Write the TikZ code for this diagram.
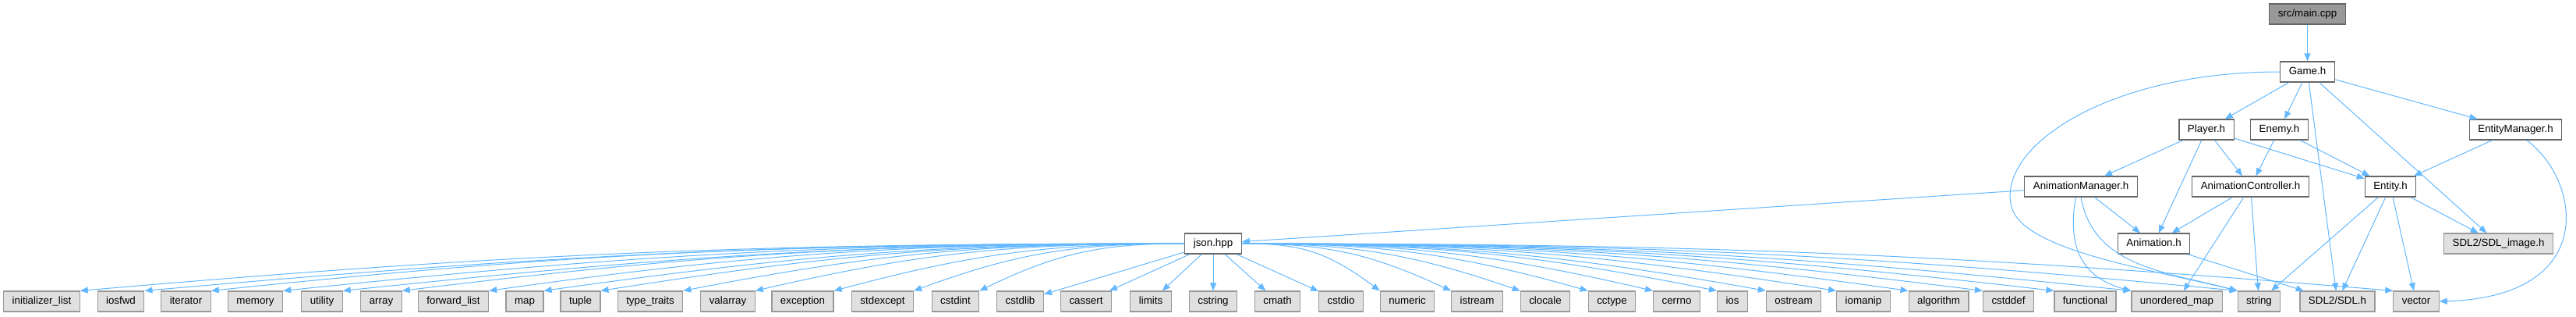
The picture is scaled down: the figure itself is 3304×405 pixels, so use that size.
\documentclass[tikz,border=0pt]{standalone}
\usepackage{fontspec}
\setmainfont{Liberation Sans}
\usepackage{tikz}
\usetikzlibrary{arrows.meta,positioning}
\definecolor{dxblue}{HTML}{63B8FF}
\definecolor{dxgray}{HTML}{999999}
\definecolor{dxdark}{HTML}{666666}
\definecolor{dxlight}{HTML}{E0E0E0}

\begin{document}
\begin{tikzpicture}[x=0.75pt, y=-0.75pt, font=\normalsize,
    box/.style={rectangle, line width=0.9pt, minimum height=19.5pt, inner xsep=8.25pt, text height=7.2pt, text depth=2pt},
    srcfile/.style={box, draw=dxdark, fill=dxgray},
    hfile/.style={box, draw=dxdark, fill=white},
    sysfile/.style={box, draw=dxgray, fill=dxlight},
    dep/.style={draw=dxblue, line width=0.75pt, -{Triangle[length=7.5pt,width=6pt]}}]
  \useasboundingbox (0,0) rectangle (3304,405);

  \node[srcfile] (main) at (2959.5,18) {src/main.cpp};
  \node[hfile] (game) at (2959.5,92) {Game.h};
  \node[hfile] (player) at (2830,166) {Player.h};
  \node[hfile] (enemy) at (2923.5,166) {Enemy.h};
  \node[hfile] (entmgr) at (3226.5,166) {EntityManager.h};
  \node[hfile] (animmgr) at (2669,239) {AnimationManager.h};
  \node[hfile] (animctrl) at (2886.5,239) {AnimationController.h};
  \node[hfile] (entity) at (3066,239) {Entity.h};
  \node[hfile] (json) at (1556,312) {json.hpp};
  \node[hfile] (anim) at (2762.5,312) {Animation.h};
  \node[sysfile] (sdlimg) at (3204.5,312) {SDL2/SDL\_image.h};

  \node[sysfile] (initlist) at (53.5,386) {initializer\_list};
  \node[sysfile] (iosfwd) at (155,386) {iosfwd};
  \node[sysfile] (iterator) at (238.5,386) {iterator};
  \node[sysfile] (memory) at (327.5,386) {memory};
  \node[sysfile] (utility) at (413,386) {utility};
  \node[sysfile] (array) at (489,386) {array};
  \node[sysfile] (fwdlist) at (581.5,386) {forward\_list};
  \node[sysfile] (map) at (673,386) {map};
  \node[sysfile] (tuple) at (744.5,386) {tuple};
  \node[sysfile] (typetraits) at (834,386) {type\_traits};
  \node[sysfile] (valarray) at (933.5,386) {valarray};
  \node[sysfile] (exception) at (1029.5,386) {exception};
  \node[sysfile] (stdexcept) at (1132,386) {stdexcept};
  \node[sysfile] (cstdint) at (1225.5,386) {cstdint};
  \node[sysfile] (cstdlib) at (1308.5,386) {cstdlib};
  \node[sysfile] (cassert) at (1393,386) {cassert};
  \node[sysfile] (limits) at (1476,386) {limits};
  \node[sysfile] (cstring) at (1556,386) {cstring};
  \node[sysfile] (cmath) at (1638.5,386) {cmath};
  \node[sysfile] (cstdio) at (1720,386) {cstdio};
  \node[sysfile] (numeric) at (1805,386) {numeric};
  \node[sysfile] (istream) at (1894.5,386) {istream};
  \node[sysfile] (clocale) at (1982,386) {clocale};
  \node[sysfile] (cctype) at (2067.5,386) {cctype};
  \node[sysfile] (cerrno) at (2150.5,386) {cerrno};
  \node[sysfile] (ios) at (2222,386) {ios};
  \node[sysfile] (ostream) at (2300.5,386) {ostream};
  \node[sysfile] (iomanip) at (2390,386) {iomanip};
  \node[sysfile] (algorithm) at (2486.5,386) {algorithm};
  \node[sysfile] (cstddef) at (2576,386) {cstddef};
  \node[sysfile] (functional) at (2674.5,386) {functional};
  \node[sysfile] (umap) at (2792,386) {unordered\_map};
  \node[sysfile] (string) at (2897.5,386) {string};
  \node[sysfile] (sdl) at (2998,386) {SDL2/SDL.h};
  \node[sysfile] (vector) at (3099,386) {vector};

  \draw[dep] (main) -- (game);
  \draw[dep] (game) -- (player);
  \draw[dep] (game) -- (enemy);
  \draw[dep] (game) -- (entmgr);
  \draw[dep] (game) -- (sdl);
  \draw[dep] (game) -- (sdlimg);
  \draw[dep] (game.west) .. controls (2700,92) and (2560,190) .. (2580,265) .. controls (2595,321) and (2760,345) .. (string.north west);
  \draw[dep] (player) -- (animmgr);
  \draw[dep] (player) -- (anim);
  \draw[dep] (player) -- (animctrl);
  \draw[dep] (player) -- (entity);
  \draw[dep] (enemy) -- (animctrl);
  \draw[dep] (enemy) -- (entity);
  \draw[dep] (entmgr) -- (entity);
  \draw[dep] ([xshift=10.5pt]entmgr.south) .. controls (3310,230) and (3335,380) .. (vector.east);
  \draw[dep] (animmgr) -- (json);
  \draw[dep] (animmgr) -- (anim);
  \draw[dep] ([xshift=-5pt]animmgr.south) to[out=-100, in=165, looseness=1.2] (umap.north west);
  \draw[dep] (animmgr.south) to[out=-80, in=165] (string.north west);
  \draw[dep] (animctrl) -- (anim);
  \draw[dep] (animctrl) -- (umap);
  \draw[dep] (animctrl) -- (string);
  \draw[dep] (entity) -- (string);
  \draw[dep] (entity) -- (sdl);
  \draw[dep] (entity) -- (vector);
  \draw[dep] (entity) -- (sdlimg);
  \draw[dep] (anim) -- (sdl);

  \draw[dep] (json.west) .. controls +(-553,0) and +(553,-48) .. (initlist.north east);
  \draw[dep] (json.west) .. controls +(-521,0) and +(521,-46) .. (iosfwd.north east);
  \draw[dep] (json.west) .. controls +(-488,0) and +(488,-51) .. (iterator.north east);
  \draw[dep] (json.west) .. controls +(-452,0) and +(452,-47) .. (memory.north east);
  \draw[dep] (json.west) .. controls +(-422,0) and +(422,-44) .. (utility.north east);
  \draw[dep] (json.west) .. controls +(-392,0) and +(392,-48) .. (array.north east);
  \draw[dep] (json.west) .. controls +(-349,0) and +(349,-49) .. (fwdlist.north east);
  \draw[dep] (json.west) .. controls +(-322,0) and +(322,-45) .. (map.north east);
  \draw[dep] (json.west) .. controls +(-293,0) and +(293,-46) .. (tuple.north east);
  \draw[dep] (json.west) .. controls +(-252,0) and +(252,-49) .. (typetraits.north east);
  \draw[dep] (json.west) .. controls +(-216,0) and +(216,-50) .. (valarray.north east);
  \draw[dep] (json.west) .. controls +(-176,0) and +(176,-47) .. (exception.north east);
  \draw[dep] (json.west) .. controls +(-136,0) and +(136,-50) .. (stdexcept.north east);
  \draw[dep] (json.west) .. controls +(-103,0) and +(103,-50) .. (cstdint.north east);
  \draw[dep] (json) -- (cstdlib);
  \draw[dep] (json) -- (cassert);
  \draw[dep] (json) -- (limits);
  \draw[dep] (json) -- (cstring);
  \draw[dep] (json) -- (cmath);
  \draw[dep] (json) -- (cstdio);
  \draw[dep] (json.east) .. controls +(71,0) and +(-71,-53) .. (numeric.north west);
  \draw[dep] (json.east) .. controls +(106,0) and +(-106,-49) .. (istream.north west);
  \draw[dep] (json.east) .. controls +(140,0) and +(-140,-48) .. (clocale.north west);
  \draw[dep] (json.east) .. controls +(174,0) and +(-174,-49) .. (cctype.north west);
  \draw[dep] (json.east) .. controls +(207,0) and +(-207,-48) .. (cerrno.north west);
  \draw[dep] (json.east) .. controls +(239,0) and +(-239,-48) .. (ios.north west);
  \draw[dep] (json.east) .. controls +(263,0) and +(-263,-47) .. (ostream.north west);
  \draw[dep] (json.east) .. controls +(300,0) and +(-300,-47) .. (iomanip.north west);
  \draw[dep] (json.east) .. controls +(335,0) and +(-335,-47) .. (algorithm.north west);
  \draw[dep] (json.east) .. controls +(373,0) and +(-373,-47) .. (cstddef.north west);
  \draw[dep] (json.east) .. controls +(408,0) and +(-408,-47) .. (functional.north west);
  \draw[dep] (json.east) .. controls +(447,0) and +(-447,-47) .. (umap.north west);
  \draw[dep] (json.east) .. controls +(499,0) and +(-499,-48) .. (string.north west);
  \draw[dep] (json.east) .. controls +(577,0) and +(-577,-48) .. (vector.north west);
\end{tikzpicture}
\end{document}
